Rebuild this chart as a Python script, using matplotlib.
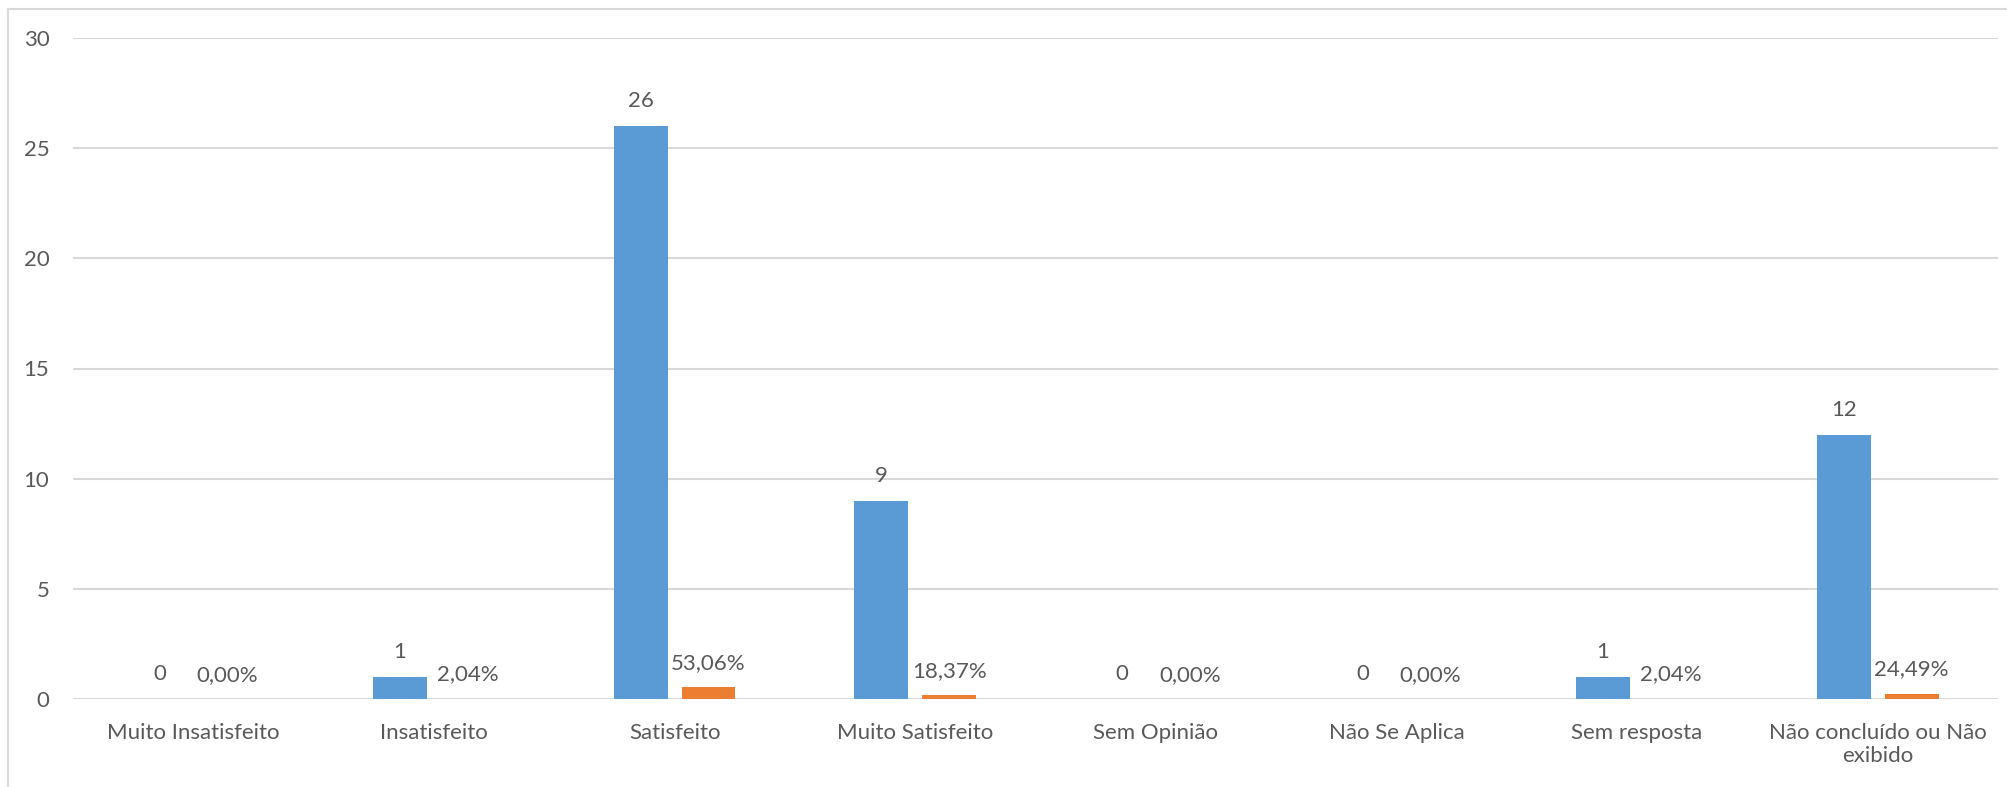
import matplotlib
matplotlib.use("Agg")
import matplotlib.pyplot as plt
from matplotlib.lines import Line2D

categories = ["Muito Insatisfeito", "Insatisfeito", "Satisfeito", "Muito Satisfeito",
              "Sem Opinião", "Não Se Aplica", "Sem resposta", "Não concluído ou Não\nexibido"]
counts = [0, 1, 26, 9, 0, 0, 1, 12]
percents = [0.0, 0.0204, 0.5306, 0.1837, 0.0, 0.0, 0.0204, 0.2449]
count_labels = ["0", "1", "26", "9", "0", "0", "1", "12"]
percent_labels = ["0,00%", "2,04%", "53,06%", "18,37%", "0,00%", "0,00%", "2,04%", "24,49%"]
yticks = [0, 5, 10, 15, 20, 25, 30]

W, H = 2008, 787
DPI = 100
plt.rcParams['font.family'] = ['Lato', 'DejaVu Sans']
TXT = '#595959'
BLUE = '#5B9BD5'
ORANGE = '#ED7D31'
GRID = '#D9D9D9'
FS = 16

fig = plt.figure(figsize=(W / DPI, H / DPI), dpi=DPI)
x0, x1 = 73, 1998
y0, y1 = 38, 699
ax = fig.add_axes([x0 / W, 1 - y1 / H, (x1 - x0) / W, (y1 - y0) / H])

xs = list(range(len(categories)))
bw = 0.224
off = 0.141
ax.bar([x - off for x in xs], counts, width=bw, color=BLUE, zorder=3)
ax.bar([x + off for x in xs], percents, width=bw, color=ORANGE, zorder=3)

for x, v, t in zip(xs, counts, count_labels):
    ax.annotate(t, xy=(x - off, v), xytext=(0, 18), textcoords='offset points',
                ha='center', va='center', fontsize=FS, color=TXT)
for x, v, t in zip(xs, percents, percent_labels):
    ax.annotate(t, xy=(x + off, v), xytext=(0, 17.5), textcoords='offset points',
                ha='center', va='center', fontsize=FS, color=TXT)

ax.set_xlim(-0.5, len(categories) - 0.5)
ax.set_ylim(0, 30)
ax.set_yticks(yticks)
ax.set_yticklabels([str(v) for v in yticks], fontsize=FS, color=TXT)
ax.set_xticks(xs)
ax.set_xticklabels(categories, fontsize=FS, color=TXT, linespacing=1.2, va='top')
ax.tick_params(axis='both', length=0)
ax.tick_params(axis='y', pad=17)
ax.tick_params(axis='x', pad=17)
ax.grid(axis='y', color=GRID, linewidth=1.5, zorder=0)
for s in ax.spines.values():
    s.set_visible(False)

# chart border (partially cropped)
fig.add_artist(Line2D([8 / W, 8 / W], [1 - 9 / H, 0], transform=fig.transFigure, color=GRID, linewidth=1.5))
fig.add_artist(Line2D([8 / W, 1], [1 - 9 / H, 1 - 9 / H], transform=fig.transFigure, color=GRID, linewidth=1.5))

fig.savefig("out.png", dpi=DPI)
